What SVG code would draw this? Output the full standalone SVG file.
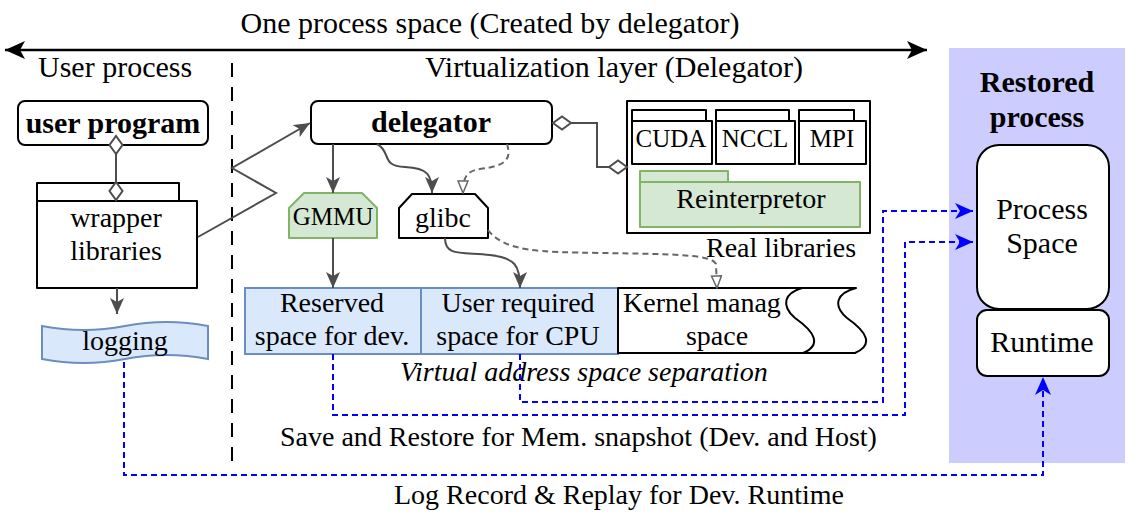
<svg xmlns="http://www.w3.org/2000/svg" width="1138" height="519" viewBox="0 0 1138 519">
<style>
text{font-family:"Liberation Serif","Times New Roman",serif;fill:#000}
.t28{font-size:28px}
.t30{font-size:30px}
.t25{font-size:25px}
.b{font-weight:bold}
.c{text-anchor:middle}
.it{font-style:italic}
.box{fill:#fff;stroke:#000;stroke-width:2;stroke-linejoin:round}
.blue{fill:#dae8fc;stroke:#6c8ebf;stroke-width:2}
.green{fill:#d5e8d4;stroke:#82b366;stroke-width:2;stroke-linejoin:round}
.gl{fill:none;stroke:#4d4d4d;stroke-width:2}
.gd{fill:none;stroke:#666;stroke-width:2;stroke-dasharray:6 4}
.bd{fill:none;stroke:#0000ff;stroke-width:2;stroke-dasharray:6 4}
</style>
<defs>
<marker id="dia" viewBox="-2 -2 22 17" refX="9" refY="6.5" markerWidth="22" markerHeight="17" orient="auto-start-reverse" markerUnits="userSpaceOnUse"><path d="M0,6.5 L9,0 L18,6.5 L9,13 Z" fill="#fff" stroke="#4d4d4d" stroke-width="2"/></marker>
<marker id="ag" viewBox="0 0 16 14" refX="16" refY="7" markerWidth="16" markerHeight="14" orient="auto" markerUnits="userSpaceOnUse"><path d="M0,0 L16,7 L0,14 L4,7 Z" fill="#4d4d4d"/></marker>
<marker id="tri" viewBox="-1 -1 14 12" refX="12" refY="5" markerWidth="14" markerHeight="12" orient="auto" markerUnits="userSpaceOnUse"><path d="M0,0 L12,5 L0,10 Z" fill="#fff" stroke="#666" stroke-width="1.5"/></marker>
<marker id="ab" viewBox="0 0 18 16" refX="18" refY="8" markerWidth="18" markerHeight="16" orient="auto" markerUnits="userSpaceOnUse"><path d="M0,0 L18,8 L0,16 L5,8 Z" fill="#0000ff"/></marker>
<marker id="ak" viewBox="0 0 20 18" refX="20" refY="9" markerWidth="20" markerHeight="18" orient="auto-start-reverse" markerUnits="userSpaceOnUse"><path d="M0,0 L20,9 L0,18 L5,9 Z" fill="#000"/></marker>
</defs>

<g id="restored-process">
<rect x="949" y="48" width="176" height="415" fill="#ccccff"/>
<text class="t30 b c" x="1037" y="92">Restored</text>
<text class="t30 b c" x="1037" y="127">process</text>
</g>

<g id="labels">
<text class="t30 c" x="490" y="33">One process space (Created by delegator)</text>
<text class="t30" x="38" y="77">User process</text>
<text class="t30" x="425" y="77">Virtualization layer (Delegator)</text>
<line x1="232" y1="63" x2="232" y2="465" stroke="#000" stroke-width="2" stroke-dasharray="14 10"/>
<text class="t28 it" x="400" y="381">Virtual address space separation</text>
<text class="t28" x="280" y="446">Save and Restore for Mem. snapshot (Dev. and Host)</text>
<text class="t28" x="394" y="504">Log Record &amp; Replay for Dev. Runtime</text>
</g>

<g id="user-program">
<rect class="box" x="18" y="101" width="190" height="44" rx="7"/>
<text class="t30 b c" x="113" y="133">user program</text>
</g>

<g id="wrapper-libraries">
<rect class="box" x="37" y="183" width="142" height="18"/>
<rect class="box" x="37" y="201" width="160" height="87"/>
<text class="t28 c" x="116" y="227">wrapper</text>
<text class="t28 c" x="116" y="260">libraries</text>
</g>

<g id="logging">
<path class="blue" d="M42,326 Q83.5,334 125,326 Q166.5,318 208,326 L208,359 Q166.5,351 125,359 Q83.5,367 42,359 Z"/>
<text class="t28 c" x="125" y="350">logging</text>
</g>

<g id="delegator">
<rect class="box" x="311" y="101" width="241" height="43" rx="7"/>
<text class="t30 b c" x="431" y="132">delegator</text>
</g>

<g id="gmmu">
<path class="green" d="M289,208 L304,193 L362,193 L377,208 L377,238 L289,238 Z"/>
<text class="t25 c" x="333" y="225">GMMU</text>
</g>

<g id="glibc">
<path class="box" d="M399,208 L412,194 L475,194 L488,208 L488,238 L399,238 Z"/>
<text class="t28 c" x="443" y="227">glibc</text>
</g>

<g id="real-libraries">
<rect class="box" x="627" y="101" width="243" height="132"/>
<rect class="box" x="632" y="110" width="74" height="11"/>
<rect class="box" x="632" y="121" width="80" height="43"/>
<text class="t25 c" x="671" y="147">CUDA</text>
<rect class="box" x="716" y="110" width="73" height="11"/>
<rect class="box" x="716" y="121" width="79" height="43"/>
<text class="t25 c" x="755" y="147">NCCL</text>
<rect class="box" x="799" y="110" width="55" height="11"/>
<rect class="box" x="799" y="121" width="67" height="43"/>
<text class="t25 c" x="832" y="147">MPI</text>
<text class="t28" x="706" y="257">Real libraries</text>
</g>

<g id="reinterpretor">
<rect class="green" x="640" y="171" width="88" height="11"/>
<rect class="green" x="640" y="182" width="220" height="45"/>
<text class="t28 c" x="751" y="208">Reinterpretor</text>
</g>

<g id="reserved-space">
<rect class="blue" x="245" y="288" width="176" height="66"/>
<text class="t28 c" x="332" y="312">Reserved</text>
<text class="t28 c" x="332" y="345">space for dev.</text>
</g>

<g id="user-space">
<rect class="blue" x="421" y="288" width="197" height="66"/>
<text class="t28 c" x="518" y="312">User required</text>
<text class="t28 c" x="518" y="345">space for CPU</text>
</g>

<g id="kernel-space">
<path class="box" d="M618,288 L856,288 C 837,293 832,305 847,318 C 867,332 874,345 855,353 L618,353 Z"/>
<text class="t28" x="623" y="312">Kernel manag</text>
<path d="M802,288 C 785,293 780,305 795,318 C 815,332 822,345 803,353" fill="#fff" stroke="#000" stroke-width="2"/>
<text class="t28 c" x="717" y="345">space</text>
</g>

<g id="process-space">
<rect class="box" x="977" y="145" width="132" height="164" rx="22"/>
<text class="t30 c" x="1042" y="219">Process</text>
<text class="t30 c" x="1042" y="253">Space</text>
</g>

<g id="runtime">
<rect class="box" x="977" y="310" width="132" height="66" rx="10"/>
<text class="t30 c" x="1042" y="352">Runtime</text>
</g>

<g id="connectors">
<path d="M5,50 L927,50" stroke="#000" stroke-width="2.5" fill="none" marker-start="url(#ak)" marker-end="url(#ak)"/>
<path class="gl" d="M116,145 L116,191" marker-start="url(#dia)" marker-end="url(#dia)"/>
<path class="gl" d="M117,288 L117,314" marker-end="url(#ag)"/>
<path class="gl" d="M198,237 L276,193 L232,168 L310,123" marker-end="url(#ag)"/>
<path class="gl" d="M562,123 L597,123 L597,167 L618,167" marker-start="url(#dia)" marker-end="url(#dia)"/>
<path class="gl" d="M333,144 L333,193" marker-end="url(#ag)"/>
<path class="gl" d="M377,144 C 392,152 380,166 405,167 C 428,168 432,175 432,193" marker-end="url(#ag)"/>
<path class="gd" d="M507,144 C 512,160 505,166 480,169 C 466,171 463,178 463,193" marker-end="url(#tri)"/>
<path class="gl" d="M333,238 L333,288" marker-end="url(#ag)"/>
<path class="gl" d="M445,238 C 445,256 460,252 490,255 C 515,258 520,265 520,288" marker-end="url(#ag)"/>
<path class="gd" d="M488,230 C 505,252 540,252 600,253 C 680,254 712,255 716,264 L717,288" marker-end="url(#tri)"/>
<path class="bd" d="M520,354 L520,402 L883,402 L883,211 L973,211" marker-end="url(#ab)"/>
<path class="bd" d="M333,354 L333,415 L905,415 L905,242 L973,242" marker-end="url(#ab)"/>
<path class="bd" d="M124,362 L124,475 L1043,475 L1043,377" marker-end="url(#ab)"/>
</g>
</svg>
